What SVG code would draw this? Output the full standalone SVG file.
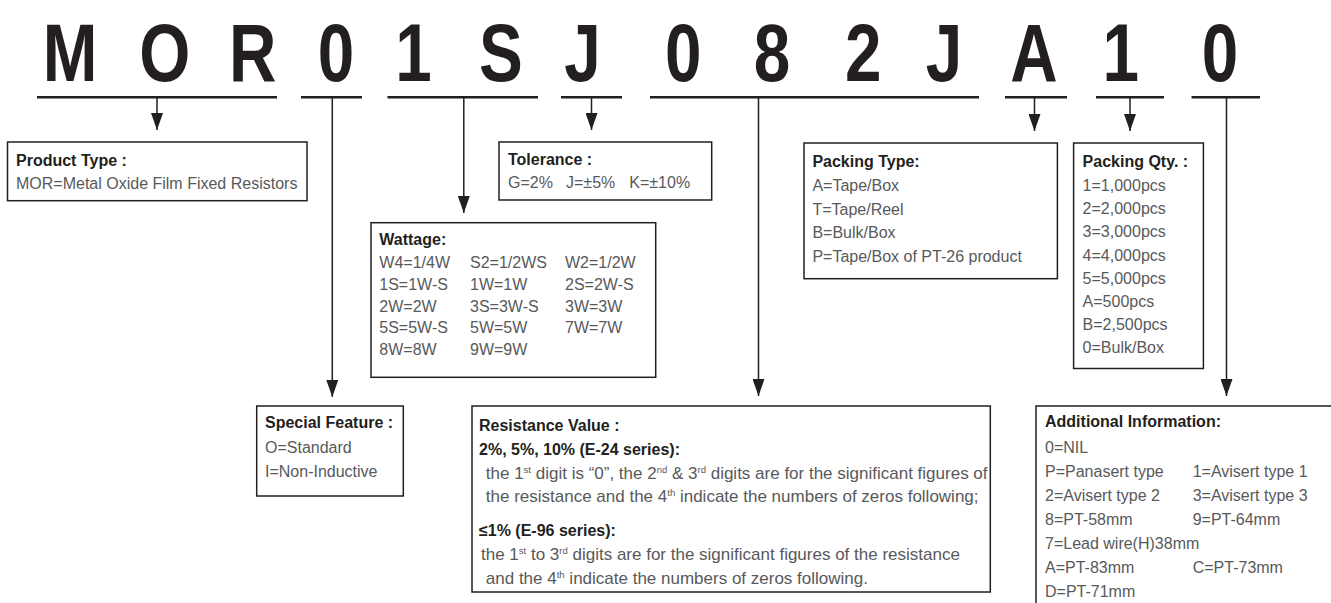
<svg xmlns="http://www.w3.org/2000/svg" width="1331" height="603" viewBox="0 0 1331 603">
<defs>
<style>
.big{font-family:"Liberation Sans",Arial,sans-serif;font-weight:bold;font-size:82px;fill:#231f20;text-anchor:middle}
.h{font-family:"Liberation Sans",Arial,sans-serif;font-weight:bold;font-size:16px;fill:#231f20}
.t{font-family:"Liberation Sans",Arial,sans-serif;font-size:16px;fill:#58595b}
.rt{font-size:17px}
.box{fill:#fff;stroke:#231f20;stroke-width:1.5}
.ul{stroke:#231f20;stroke-width:2.6;fill:none}
.ln{stroke:#231f20;stroke-width:1.5;fill:none}
.sup{font-size:9.5px}
</style>
<marker id="arr" viewBox="0 0 17 12" refX="17" refY="6" markerWidth="17" markerHeight="12" markerUnits="userSpaceOnUse" orient="auto">
<path d="M0,0 L17,6 L0,12 Z" fill="#231f20"/>
</marker>
</defs>
<rect width="1331" height="603" fill="#fff"/>

<g id="code">
<g transform="scale(0.8,1)">
<text class="big" x="87.5" y="81">M</text>
<text class="big" x="206" y="81">O</text>
<text class="big" x="316" y="81">R</text>
<text class="big" x="420" y="81">0</text>
<text class="big" x="517" y="81">1</text>
<text class="big" x="626" y="81">S</text>
<text class="big" x="728" y="81">J</text>
<text class="big" x="854" y="81">0</text>
<text class="big" x="965" y="81">8</text>
<text class="big" x="1079" y="81">2</text>
<text class="big" x="1180" y="81">J</text>
<text class="big" x="1292.5" y="81">A</text>
<text class="big" x="1401" y="81">1</text>
<text class="big" x="1525" y="81">0</text>
</g>
<line class="ul" x1="37" y1="97.3" x2="277" y2="97.3"/>
<line class="ul" x1="301" y1="97.3" x2="362" y2="97.3"/>
<line class="ul" x1="387.5" y1="97.3" x2="538" y2="97.3"/>
<line class="ul" x1="561" y1="97.3" x2="622" y2="97.3"/>
<line class="ul" x1="650" y1="97.3" x2="979" y2="97.3"/>
<line class="ul" x1="1005" y1="97.3" x2="1067" y2="97.3"/>
<line class="ul" x1="1096" y1="97.3" x2="1164" y2="97.3"/>
<line class="ul" x1="1191.5" y1="97.3" x2="1260" y2="97.3"/>
</g>

<g id="connectors">
<line class="ln" x1="157" y1="98" x2="157" y2="130" marker-end="url(#arr)"/>
<line class="ln" x1="332.3" y1="98" x2="332.3" y2="397" marker-end="url(#arr)"/>
<line class="ln" x1="463.8" y1="98" x2="463.8" y2="213" marker-end="url(#arr)"/>
<line class="ln" x1="591.5" y1="98" x2="591.5" y2="130" marker-end="url(#arr)"/>
<line class="ln" x1="758.5" y1="98" x2="758.5" y2="396" marker-end="url(#arr)"/>
<line class="ln" x1="1034.5" y1="98" x2="1034.5" y2="131" marker-end="url(#arr)"/>
<line class="ln" x1="1130" y1="98" x2="1130" y2="131" marker-end="url(#arr)"/>
<line class="ln" x1="1226.5" y1="98" x2="1226.5" y2="396" marker-end="url(#arr)"/>
</g>

<g id="product-type">
<rect class="box" x="7.5" y="142" width="299.5" height="58.7"/>
<text class="h" x="16" y="165.7">Product Type :</text>
<text class="t" x="16" y="189.3">MOR=Metal Oxide Film Fixed Resistors</text>
</g>

<g id="tolerance">
<rect class="box" x="499" y="142" width="212.7" height="58"/>
<text class="h" x="508" y="165">Tolerance :</text>
<text class="t" y="188.3"><tspan x="508">G=2%</tspan><tspan x="566">J=±5%</tspan><tspan x="629.3">K=±10%</tspan></text>
</g>

<g id="wattage">
<rect class="box" x="371" y="222.7" width="284.7" height="154.6"/>
<text class="h" x="379.3" y="245">Wattage:</text>
<text class="t" y="268.3"><tspan x="379.3">W4=1/4W</tspan><tspan x="470">S2=1/2WS</tspan><tspan x="565">W2=1/2W</tspan></text>
<text class="t" y="290"><tspan x="379.3">1S=1W-S</tspan><tspan x="470">1W=1W</tspan><tspan x="565">2S=2W-S</tspan></text>
<text class="t" y="311.7"><tspan x="379.3">2W=2W</tspan><tspan x="470">3S=3W-S</tspan><tspan x="565">3W=3W</tspan></text>
<text class="t" y="333.3"><tspan x="379.3">5S=5W-S</tspan><tspan x="470">5W=5W</tspan><tspan x="565">7W=7W</tspan></text>
<text class="t" y="355"><tspan x="379.3">8W=8W</tspan><tspan x="470">9W=9W</tspan></text>
</g>

<g id="packing-type">
<rect class="box" x="804" y="143" width="253.4" height="135.7"/>
<text class="h" x="812.4" y="167.3">Packing Type:</text>
<text class="t" x="812.4" y="191">A=Tape/Box</text>
<text class="t" x="812.4" y="214.5">T=Tape/Reel</text>
<text class="t" x="812.4" y="238">B=Bulk/Box</text>
<text class="t" x="812.4" y="261.5">P=Tape/Box of PT-26 product</text>
</g>

<g id="packing-qty">
<rect class="box" x="1073.6" y="143" width="129.8" height="225.5"/>
<text class="h" x="1082.6" y="167.3">Packing Qty. :</text>
<text class="t" x="1082.6" y="191">1=1,000pcs</text>
<text class="t" x="1082.6" y="214.2">2=2,000pcs</text>
<text class="t" x="1082.6" y="237.4">3=3,000pcs</text>
<text class="t" x="1082.6" y="260.6">4=4,000pcs</text>
<text class="t" x="1082.6" y="283.8">5=5,000pcs</text>
<text class="t" x="1082.6" y="307">A=500pcs</text>
<text class="t" x="1082.6" y="330.2">B=2,500pcs</text>
<text class="t" x="1082.6" y="353.4">0=Bulk/Box</text>
</g>

<g id="special-feature">
<rect class="box" x="256.7" y="406" width="146.6" height="90"/>
<text class="h" x="265" y="428.3">Special Feature :</text>
<text class="t" x="265" y="453.3">O=Standard</text>
<text class="t" x="265" y="476.7">I=Non-Inductive</text>
</g>

<g id="resistance-value">
<rect class="box" x="472" y="406" width="518.3" height="186"/>
<text class="h" x="479" y="431">Resistance Value :</text>
<text class="h" x="479" y="455.3">2%, 5%, 10% (E-24 series):</text>
<text class="t rt" x="485.8" y="479.4">the 1<tspan class="sup" dy="-6">st</tspan><tspan dy="6"> digit is “0”, the 2</tspan><tspan class="sup" dy="-6">nd</tspan><tspan dy="6"> &amp; 3</tspan><tspan class="sup" dy="-6">rd</tspan><tspan dy="6"> digits are for the significant figures of</tspan></text>
<text class="t rt" x="485.8" y="502.4">the resistance and the 4<tspan class="sup" dy="-6">th</tspan><tspan dy="6"> indicate the numbers of zeros following;</tspan></text>
<text class="h" x="479" y="536.2">≤1% (E-96 series):</text>
<text class="t rt" x="481" y="560.3">the 1<tspan class="sup" dy="-6">st</tspan><tspan dy="6"> to 3</tspan><tspan class="sup" dy="-6">rd</tspan><tspan dy="6"> digits are for the significant figures of the resistance</tspan></text>
<text class="t rt" x="485.8" y="583.7">and the 4<tspan class="sup" dy="-6">th</tspan><tspan dy="6"> indicate the numbers of zeros following.</tspan></text>
</g>

<g id="additional-information">
<rect class="box" x="1036" y="406" width="320" height="220"/>
<text class="h" x="1045" y="426.7">Additional Information:</text>
<text class="t" x="1045" y="452.5">0=NIL</text>
<text class="t" y="476.5"><tspan x="1045">P=Panasert type</tspan><tspan x="1192.7">1=Avisert type 1</tspan></text>
<text class="t" y="500.5"><tspan x="1045">2=Avisert type 2</tspan><tspan x="1192.7">3=Avisert type 3</tspan></text>
<text class="t" y="524.5"><tspan x="1045">8=PT-58mm</tspan><tspan x="1192.7">9=PT-64mm</tspan></text>
<text class="t" x="1045" y="548.5">7=Lead wire(H)38mm</text>
<text class="t" y="572.5"><tspan x="1045">A=PT-83mm</tspan><tspan x="1192.7">C=PT-73mm</tspan></text>
<text class="t" x="1045" y="596.5">D=PT-71mm</text>
</g>
</svg>
